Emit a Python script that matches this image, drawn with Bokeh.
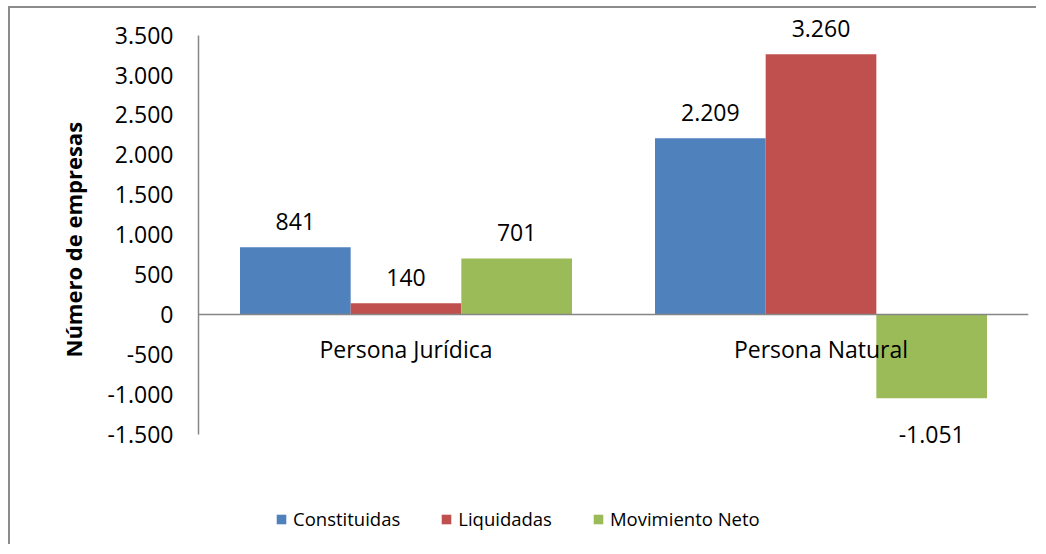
from bokeh.plotting import figure
from bokeh.models import ColumnDataSource, FactorRange, Range1d, FixedTicker, Span, Legend, LegendItem, Title
from bokeh.transform import dodge
from bokeh.core.properties import value
from bokeh.embed import file_html
from bokeh.resources import INLINE

categories = ["Persona Jurídica", "Persona Natural"]
series = ["Constituidas", "Liquidadas", "Movimiento Neto"]
constituidas = [841, 2209]
liquidadas = [140, 3260]
movimiento_neto = [701, -1051]
colors = ["#4F81BD", "#C0504D", "#9BBB59"]
y_ticks = [-1500, -1000, -500, 0, 500, 1000, 1500, 2000, 2500, 3000, 3500]
y_title = "Número de empresas"

FONT = "Open Sans"


def fmt(v):
    return f"{v:,}".replace(",", ".")


# frame extends beyond the axis bounds so that outer labels and legend are not clipped
p = figure(
    x_range=FactorRange(*categories),
    y_range=Range1d(-2832, 3784),
    width=1028, height=538,
    output_backend="svg", toolbar_location=None,
    min_border_left=188, min_border_right=10,
    min_border_top=4, min_border_bottom=6,
)
p.styles = {"border-top": "2px solid #8c8c8c", "border-left": "2px solid #8c8c8c",
            "margin-top": "6px", "margin-left": "8px"}
p.outline_line_color = None
p.xgrid.grid_line_color = None
p.ygrid.grid_line_color = None
p.xaxis.visible = False

ya = p.yaxis[0]
ya.ticker = FixedTicker(ticks=y_ticks)
ya.bounds = (min(y_ticks), max(y_ticks))
ya.major_label_overrides = {t: fmt(t) for t in y_ticks}
ya.major_tick_line_color = None
ya.minor_tick_line_color = None
ya.major_tick_out = 0
ya.major_tick_in = 0
ya.axis_line_color = "#868686"
ya.axis_line_width = 1.5
ya.major_label_standoff = 25
ya.major_label_text_font = FONT
ya.major_label_text_font_size = "23px"
ya.major_label_text_color = "#000000"

p.add_layout(Title(text=y_title, align="left", offset=183, standoff=34,
                   text_font=FONT, text_font_size="22px", text_font_style="bold",
                   text_color="#000000"), "left")

p.add_layout(Span(location=0, dimension="width", line_color="#868686", line_width=1.5))

bar_w = 1 / 3.75
offsets = [-bar_w, 0, bar_w]
data_series = [constituidas, liquidadas, movimiento_neto]
items = []
for name, vals, col, off in zip(series, data_series, colors, offsets):
    src = ColumnDataSource(dict(
        cat=categories, val=vals,
        lab=[fmt(v) for v in vals],
        yoff=[-26 if v >= 0 else 36 for v in vals],
    ))
    r = p.vbar(x=dodge("cat", off, range=p.x_range), top="val", bottom=0, width=bar_w,
               source=src, fill_color=col, line_color=None)
    p.text(x=dodge("cat", off, range=p.x_range), y="val", text="lab", source=src,
           y_offset="yoff", text_align="center", text_baseline="middle",
           text_font=value(FONT), text_font_size="23px", text_color="#000000")
    items.append(LegendItem(label=name, renderers=[r]))

cat_src = ColumnDataSource(dict(cat=categories, y=[0, 0]))
p.text(x="cat", y="y", text="cat", source=cat_src, y_offset=35,
       text_align="center", text_baseline="middle",
       text_font=value(FONT), text_font_size="23px", text_color="#000000")

legend = Legend(items=items, orientation="horizontal", location=(77, 9),
                padding=0, margin=0, spacing=40, label_standoff=6,
                glyph_width=12, glyph_height=12,
                label_text_font=FONT, label_text_font_size="18.5px",
                label_text_color="#000000",
                border_line_color=None, background_fill_alpha=0)
p.add_layout(legend, "center")

open("out.html", "w").write(file_html(p, INLINE))
